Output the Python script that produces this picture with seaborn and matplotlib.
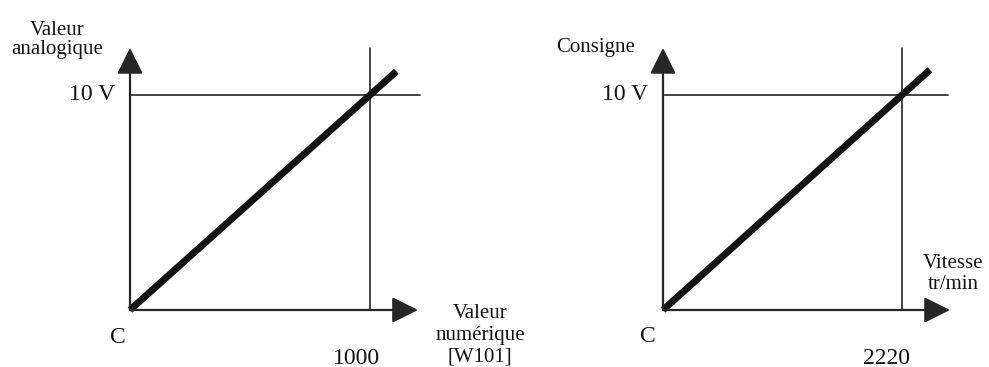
import numpy as np
import pandas as pd
import seaborn as sns
import matplotlib.pyplot as plt

# ---------------- data ----------------
left_x = [0, 1000, 1110]          # Valeur numérique [W101]
left_y = [0, 10, 11.1]            # Valeur analogique (V)
right_x = [0, 2220, 2480]         # Vitesse tr/min
right_y = [0, 10, 11.17]          # Consigne (V)

ref_x = [1000, 2220]              # reference abscissa values
ref_y = [10, 10]                  # reference ordinate values (10 V)
ytick_labels = ["10 V", "10 V"]
xtick_labels = ["1000", "2220"]
origin_labels = ["C", "C"]
y_titles = ["Valeur\nanalogique", "Consigne"]
x_titles = ["Valeur\nnumérique\n[W101]", "Vitesse\ntr/min"]

# axis extents (data units)
x_arrow_end = [1200, 2666]
y_arrow_end = [12.19, 12.19]
hline_end = [1208, 2647]

# ---------------- figure ----------------
sns.set_theme(style="white")
plt.rcParams['font.family'] = ['Liberation Serif', 'DejaVu Serif']

W, H = 989, 367
fig = plt.figure(figsize=(W / 100, H / 100), dpi=100)

# panel geometry in pixels: (left px, right px, origin x px, px of ref x)
panels = [
    dict(x0=0, x1=494, ox=130, rx=370),
    dict(x0=494, x1=989, ox=663, rx=902),
]
oy, ry = 310, 95  # origin y px, 10 V y px

dark = "#141414"
axis_c = "#262626"

xt_off = [(-9.4, -34.6), (-10.8, -34.6)]
c_off = [(-8.6, -19.5), (-10.8, -19.0)]
yt_off = [(-52.6, 5.5), (-48.2, 0.0)]
xl_off = [(44.6, -18.5), (2.2, 26.0)]
xl_ls = [1.2, 1.15]

for i, p in enumerate(panels):
    ax = fig.add_axes([p['x0'] / W, 0, (p['x1'] - p['x0']) / W, 1])
    sx = ref_x[i] / (p['rx'] - p['ox'])
    sy = ref_y[i] / (oy - ry)
    ax.set_xlim((p['x0'] - p['ox']) * sx, (p['x1'] - p['ox']) * sx)
    ax.set_ylim((oy - H) * sy, oy * sy)
    ax.axis('off')

    arrow = dict(arrowstyle='-|>,head_length=1.0,head_width=0.5',
                 mutation_scale=16, lw=1.6, color=axis_c,
                 shrinkA=0, shrinkB=0)
    ax.annotate('', xy=(x_arrow_end[i], 0), xytext=(0, 0), arrowprops=arrow)
    ax.annotate('', xy=(0, y_arrow_end[i]), xytext=(0, 0), arrowprops=arrow)

    # reference lines
    ax.plot([0, hline_end[i]], [ref_y[i], ref_y[i]], color=axis_c, lw=1.2)
    ax.plot([ref_x[i], ref_x[i]], [0, y_arrow_end[i]], color=axis_c, lw=1.2)

    # characteristic line
    xs = left_x if i == 0 else right_x
    ys = left_y if i == 0 else right_y
    df = pd.DataFrame({'x': xs, 'y': ys})
    sns.lineplot(data=df, x='x', y='y', ax=ax, color=dark, linewidth=5,
                 solid_capstyle='butt', sort=False)
    ax.set_xlabel('')
    ax.set_ylabel('')

    # labels
    ax.annotate(ytick_labels[i], xy=(0, ref_y[i]), xytext=(-11, 0),
                textcoords='offset points', ha='right', va='center',
                fontsize=17, color=dark)
    ax.annotate(xtick_labels[i], xy=(ref_x[i], 0), xytext=xt_off[i],
                textcoords='offset points', ha='center', va='center',
                fontsize=17, color=dark)
    ax.annotate(origin_labels[i], xy=(0, 0), xytext=c_off[i],
                textcoords='offset points', ha='center', va='center',
                fontsize=17, color=dark)
    ax.annotate(y_titles[i], xy=(0, y_arrow_end[i]), xytext=yt_off[i],
                textcoords='offset points', ha='center', va='center',
                fontsize=15, color=dark, linespacing=1.0, multialignment='center')
    ax.annotate(x_titles[i], xy=(x_arrow_end[i], 0), xytext=xl_off[i],
                textcoords='offset points', ha='center', va='center',
                fontsize=15, color=dark, linespacing=xl_ls[i], multialignment='center')

fig.savefig('out.png', dpi=100)
